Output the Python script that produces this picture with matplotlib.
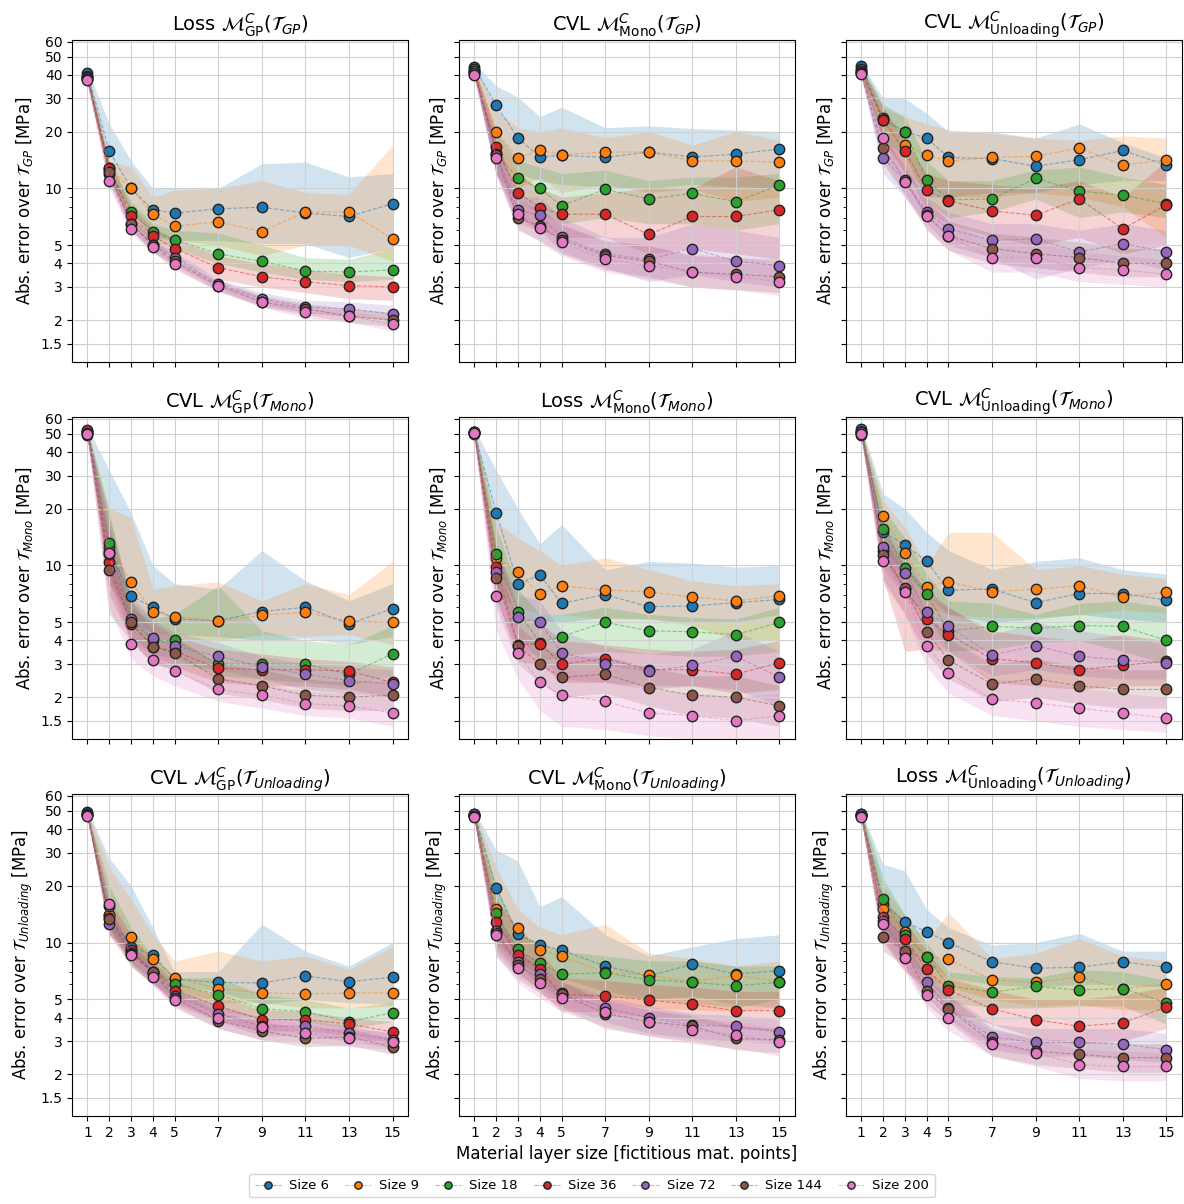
import matplotlib
matplotlib.use("Agg")
import matplotlib.pyplot as plt
from matplotlib.ticker import FixedLocator, NullFormatter

# x axis: material layer sizes
layer_sizes = [1, 2, 3, 4, 5, 7, 9, 11, 13, 15]
series_labels = ["Size 6", "Size 9", "Size 18", "Size 36", "Size 72", "Size 144", "Size 200"]
models = ["GP", "Mono", "Unloading"]      # columns
test_sets = ["GP", "Mono", "Unloading"]   # rows
y_ticks = [1.5, 2, 3, 4, 5, 10, 20, 30, 40, 50, 60]

# ---- Test set GP ----
gp_gp_mean = [
    [41, 15.8, 10.0, 7.7, 7.4, 7.8, 7.95, 7.4, 7.1, 8.3],
    [39.5, 12.8, 10.0, 7.3, 6.3, 6.65, 5.9, 7.5, 7.5, 5.4],
    [39, 12.6, 7.5, 5.9, 5.35, 4.5, 4.1, 3.65, 3.6, 3.7],
    [39, 12.9, 7.1, 5.6, 4.8, 3.8, 3.4, 3.2, 3.05, 3.0],
    [38, 12.0, 6.5, 5.0, 4.3, 3.1, 2.6, 2.35, 2.3, 2.15],
    [38, 12.2, 6.5, 5.0, 4.1, 3.05, 2.5, 2.3, 2.1, 2.0],
    [37.5, 10.9, 6.1, 4.9, 3.95, 3.05, 2.5, 2.2, 2.1, 1.9],
]
gp_gp_lo = [
    [38, 12, 7.5, 5.5, 5.3, 5.3, 5.1, 5.1, 4.3, 4.8],
    [37, 11, 7.5, 5.8, 5.3, 5.0, 4.4, 5.0, 5.0, 4.1],
    [37, 11, 6.8, 5.2, 4.8, 4.0, 3.6, 3.3, 3.2, 3.3],
    [37, 11.5, 6.3, 5.0, 4.3, 3.3, 3.0, 2.8, 2.6, 2.55],
    [36, 11, 6.0, 4.6, 4.0, 2.9, 2.4, 2.2, 2.1, 2.0],
    [36, 11, 6.0, 4.6, 3.8, 2.85, 2.35, 2.15, 1.95, 1.85],
    [36, 10, 5.7, 4.6, 3.7, 2.85, 2.35, 2.05, 1.95, 1.75],
]
gp_gp_hi = [
    [43, 22, 14, 10, 10, 10, 13.5, 13.8, 11.5, 12.0],
    [41, 14, 13, 9, 9.8, 10, 11, 9.5, 9.3, 17],
    [41, 14, 8.5, 6.5, 6.0, 5.8, 5.0, 4.3, 4.2, 4.8],
    [41, 14, 8.0, 6.2, 5.4, 4.4, 4.0, 3.7, 3.5, 3.4],
    [40, 13, 7.0, 5.4, 4.6, 3.3, 2.8, 2.55, 2.5, 2.4],
    [40, 13, 7.0, 5.4, 4.4, 3.25, 2.7, 2.45, 2.3, 2.2],
    [39, 12, 6.6, 5.2, 4.2, 3.25, 2.65, 2.35, 2.25, 2.05],
]

mono_gp_mean = [
    [44.2, 27.6, 18.5, 14.7, 15.0, 14.6, 15.6, 14.7, 15.2, 16.2],
    [43, 20, 14.5, 15.9, 15.1, 15.6, 15.6, 14.0, 14.0, 13.8],
    [42, 15.5, 11.3, 10.0, 8.1, 9.9, 8.8, 9.4, 8.5, 10.4],
    [41, 16.5, 9.5, 7.9, 7.3, 7.3, 5.7, 7.1, 7.1, 7.7],
    [42, 15.3, 7.7, 7.2, 5.5, 4.5, 4.2, 4.8, 4.1, 3.9],
    [41, 15.0, 7.0, 6.3, 5.35, 4.4, 4.1, 3.6, 3.5, 3.4],
    [40, 14.5, 7.3, 6.2, 5.2, 4.2, 3.9, 3.6, 3.4, 3.2],
]
mono_gp_lo = [
    [42, 20, 12, 11, 10.5, 10.2, 10, 10.5, 10.2, 10],
    [41, 15, 10, 11.5, 9.5, 10.5, 9.5, 10, 8.5, 9],
    [40, 12, 8.5, 7.5, 6.5, 7, 6.5, 6.5, 6, 6.5],
    [39, 12, 7, 6, 5.5, 5.5, 4.5, 4.8, 4.5, 4.2],
    [40, 12, 6.5, 6, 4.6, 3.8, 3.2, 3.5, 3.2, 3.0],
    [39, 12, 6.0, 5.3, 4.5, 3.7, 3.4, 3.0, 2.9, 2.8],
    [38, 11.5, 6.2, 5.2, 4.4, 3.6, 3.3, 3.0, 2.9, 2.7],
]
mono_gp_hi = [
    [46, 35, 30.5, 24, 27, 21, 21.5, 20.8, 20.4, 20],
    [45, 26, 21, 20, 21, 18.5, 20, 17, 20, 18],
    [44, 20, 14, 13, 12, 12.5, 11, 11.5, 11.5, 12],
    [43, 20, 12, 10, 9, 9.5, 10, 10, 13, 11],
    [44, 19, 9, 9, 7, 5.5, 5.5, 6.5, 6, 5.5],
    [43, 18, 8.5, 7.8, 6.4, 5.3, 5.0, 4.4, 4.3, 4.2],
    [42, 18, 9.0, 7.8, 6.5, 5.2, 4.9, 4.5, 4.3, 4.0],
]

unl_gp_mean = [
    [44.5, 23.5, 20.0, 18.5, 14.6, 14.4, 13.1, 14.2, 15.9, 13.3],
    [43, 23, 17.1, 15.0, 14.0, 14.6, 14.8, 16.4, 13.3, 14.2],
    [42, 23, 20.0, 11.1, 8.7, 8.8, 11.3, 9.7, 9.2, 8.3],
    [42, 23.0, 15.8, 9.8, 8.6, 7.6, 7.2, 8.8, 6.1, 8.2],
    [41, 14.5, 11.0, 7.5, 6.1, 5.3, 5.4, 4.6, 5.1, 4.6],
    [41, 16.4, 11.1, 7.2, 5.6, 4.8, 4.5, 4.3, 4.0, 4.0],
    [40.4, 18.5, 10.8, 7.1, 5.6, 4.3, 4.3, 3.8, 3.7, 3.5],
]
unl_gp_lo = [
    [42, 18, 12, 9, 9, 9.5, 9.5, 10.5, 11, 11],
    [41, 18, 12, 10, 9, 9, 9.5, 9, 8, 5.5],
    [40, 18, 15, 8.5, 7, 7.5, 8.8, 7, 7.5, 7],
    [40, 18, 13, 7.5, 6.5, 5.5, 5.0, 5.5, 4.5, 5],
    [39, 12, 9, 6.5, 5, 4.3, 3.3, 3.8, 4.2, 3.7],
    [39, 13.5, 9.3, 6.1, 4.7, 4.0, 3.8, 3.6, 3.4, 3.4],
    [38, 15, 9, 6, 4.7, 3.6, 3.6, 3.2, 3.1, 3.0],
]
unl_gp_hi = [
    [46, 30, 30, 25, 20, 20, 18.5, 22, 17.5, 14.5],
    [45, 27, 24, 22, 20.5, 19.5, 18.5, 18, 19, 18.5],
    [45, 28, 24, 14, 11, 11, 12.5, 13, 11.5, 10.5],
    [44, 27, 18, 12, 11, 10.5, 10, 11, 9, 14],
    [43, 18, 13, 9, 7.5, 6.5, 6.5, 6, 6.5, 6],
    [43, 19, 13, 8.6, 6.7, 5.8, 5.5, 5.2, 4.8, 4.8],
    [42, 21, 12.8, 8.5, 6.7, 5.2, 5.2, 4.6, 4.4, 4.2],
]

# ---- Test set Mono ----
gp_mono_mean = [
    [52, 12.0, 6.9, 6.0, 5.2, 5.1, 5.7, 6.0, 4.9, 5.9],
    [51, 12.5, 8.2, 5.7, 5.35, 5.05, 5.45, 5.65, 5.05, 5.0],
    [51, 13.2, 5.1, 4.0, 4.0, 3.0, 3.0, 3.0, 2.65, 3.4],
    [52.5, 10.4, 4.9, 3.7, 3.5, 2.85, 2.8, 2.8, 2.75, 2.4],
    [50.5, 11.5, 5.2, 4.1, 3.75, 3.3, 2.9, 2.65, 2.45, 2.35],
    [49, 9.5, 5.0, 3.7, 3.45, 2.5, 2.3, 2.05, 2.0, 2.05],
    [50, 11.6, 3.85, 3.15, 2.75, 2.2, 2.05, 1.85, 1.8, 1.65],
]
gp_mono_lo = [
    [50, 8, 5, 4.4, 4.3, 4.2, 4.0, 4.1, 3.8, 4.2],
    [49, 8, 5.5, 4.5, 4.1, 4.0, 4.3, 4.2, 4.3, 3.8],
    [49, 9, 4.2, 3.4, 3.2, 2.6, 2.5, 2.4, 2.3, 2.6],
    [50, 7, 4, 3.0, 2.9, 2.4, 2.3, 2.3, 2.2, 2.0],
    [48, 8, 4.0, 3.3, 3.0, 2.8, 2.5, 2.2, 2.1, 2.0],
    [47, 5.5, 4.0, 3.0, 2.8, 2.1, 1.95, 1.75, 1.7, 1.7],
    [48, 6, 3.2, 2.6, 2.3, 1.9, 1.75, 1.6, 1.55, 1.4],
]
gp_mono_hi = [
    [54, 32, 19, 10, 8, 7.5, 12, 8.3, 6.5, 8],
    [53, 20, 18, 7.5, 7.8, 8.2, 6.5, 8.0, 7.0, 10.5],
    [53, 19, 6.5, 5.2, 5.5, 7.8, 4.5, 4.0, 3.8, 4.8],
    [55, 14, 6, 5, 4.2, 3.6, 3.4, 3.2, 3.1, 2.9],
    [53, 16, 7, 5.2, 4.4, 3.9, 3.3, 3.0, 2.9, 2.8],
    [51, 18, 6.5, 4.5, 4.2, 3.0, 2.8, 2.5, 2.4, 2.5],
    [52, 16, 4.6, 3.7, 3.2, 2.55, 2.35, 2.15, 2.1, 1.95],
]

mono_mono_mean = [
    [51, 19.1, 8.0, 8.9, 6.3, 7.0, 6.05, 6.1, 6.35, 6.6],
    [51, 11.0, 9.2, 7.05, 7.8, 7.4, 7.25, 6.8, 6.5, 6.9],
    [50.5, 11.5, 5.7, 3.9, 4.2, 5.0, 4.5, 4.45, 4.3, 5.0],
    [51, 9.8, 3.8, 3.85, 3.0, 3.2, 2.8, 2.8, 2.65, 3.05],
    [50.5, 9.25, 5.3, 5.0, 3.45, 3.0, 2.75, 2.95, 3.3, 2.55],
    [50, 8.6, 3.75, 3.0, 2.55, 2.65, 2.25, 2.05, 2.0, 1.8],
    [50.5, 6.9, 3.45, 2.4, 2.05, 1.9, 1.65, 1.6, 1.5, 1.6],
]
mono_mono_lo = [
    [48, 10, 6, 5, 5, 5.3, 5.2, 5.0, 5.0, 5.5],
    [48, 7, 6, 5.5, 5.5, 5.2, 5.2, 4.8, 4.0, 4.0],
    [48, 8, 4.3, 3.1, 3.3, 3.5, 3.4, 3.3, 3.3, 3.5],
    [48, 7, 3.1, 3.0, 2.4, 2.4, 2.3, 2.3, 2.1, 2.2],
    [48, 6.5, 3.6, 3.3, 2.5, 2.4, 2.2, 2.3, 2.2, 1.8],
    [47, 6, 3.0, 2.4, 2.0, 2.1, 1.8, 1.6, 1.55, 1.4],
    [48, 4.5, 2.5, 1.7, 1.4, 1.35, 1.25, 1.2, 1.1, 1.2],
]
mono_mono_hi = [
    [53, 32, 20, 13, 16.5, 9.5, 10.5, 10.3, 9.8, 10],
    [53, 17, 14, 12, 10, 11, 9.5, 8.3, 7.8, 8],
    [53, 16, 7.5, 5.5, 5.5, 6.0, 5.5, 5.3, 5.2, 6],
    [53, 13, 6, 5, 4, 3.8, 3.6, 3.5, 3.6, 4.0],
    [53, 12, 7, 6.5, 4.5, 3.7, 3.4, 3.6, 4.5, 3.5],
    [52, 12, 4.8, 3.8, 3.3, 3.3, 2.9, 2.6, 2.6, 2.3],
    [52, 10, 4.6, 3.2, 2.8, 2.5, 2.2, 2.1, 2.0, 2.1],
]

unl_mono_mean = [
    [53, 15.0, 12.9, 10.5, 7.4, 7.5, 6.35, 7.1, 7.1, 6.55],
    [51, 18.2, 11.7, 7.7, 8.2, 7.25, 7.5, 7.8, 6.8, 7.25],
    [51, 15.6, 9.7, 7.05, 4.5, 4.75, 4.65, 4.8, 4.75, 4.0],
    [51, 12.0, 7.5, 5.2, 4.3, 3.2, 3.05, 2.8, 2.95, 3.1],
    [51, 12.5, 9.1, 5.7, 4.75, 3.35, 3.75, 3.3, 3.15, 3.05],
    [49.5, 11.3, 7.6, 4.45, 3.15, 2.35, 2.5, 2.3, 2.2, 2.2],
    [50, 10.5, 7.25, 3.75, 2.7, 1.95, 1.87, 1.75, 1.65, 1.55],
]
unl_mono_lo = [
    [50, 11, 9, 7, 5.5, 5, 5.2, 5.5, 5.2, 5.0],
    [49, 13, 9, 6, 5.5, 5.3, 5.3, 5.5, 5.8, 5.6],
    [49, 11, 7, 5.5, 3.5, 3.6, 3.9, 4.0, 3.5, 3.0],
    [49, 8.5, 3.5, 3.6, 3.5, 2.4, 2.3, 2.2, 2.3, 2.3],
    [49, 9.5, 7, 4.5, 3.5, 2.6, 2.8, 2.6, 2.5, 2.5],
    [47, 8.5, 5.5, 3.4, 2.5, 1.9, 2.0, 1.85, 1.75, 1.75],
    [48, 8, 5.5, 2.9, 2.1, 1.6, 1.5, 1.4, 1.35, 1.3],
]
unl_mono_hi = [
    [55, 24, 20, 15, 12, 9.5, 10.5, 11, 9.5, 9],
    [53, 22, 16, 10, 15, 15, 9.5, 10, 9, 8.5],
    [53, 20, 14, 9, 6.5, 6.3, 5.5, 6.3, 6.5, 6],
    [53, 16, 10, 7.5, 6, 4.5, 4.2, 4.0, 4.3, 4.0],
    [53, 16, 11.5, 7, 6, 4.3, 5, 4.5, 4.2, 3.8],
    [52, 14, 9.5, 5.8, 4.1, 3.0, 3.2, 2.9, 2.8, 2.8],
    [52, 13, 9, 4.8, 3.5, 2.5, 2.4, 2.25, 2.1, 2.0],
]

# ---- Test set Unloading ----
gp_unl_mean = [
    [49, 14.0, 9.5, 8.6, 6.4, 6.15, 6.1, 6.65, 6.2, 6.55],
    [48, 14.0, 10.7, 8.2, 6.5, 5.7, 5.4, 5.35, 5.4, 5.4],
    [48, 15.6, 9.0, 7.0, 6.0, 5.3, 4.45, 4.3, 3.8, 4.25],
    [48, 13.5, 9.1, 7.0, 5.55, 4.6, 3.9, 3.9, 3.7, 3.35],
    [47.5, 12.5, 8.8, 6.85, 5.2, 4.2, 3.6, 3.6, 3.3, 3.05],
    [47.5, 13.4, 8.7, 7.0, 5.1, 3.85, 3.4, 3.1, 3.15, 2.8],
    [47, 16.0, 8.6, 6.55, 4.95, 4.0, 3.55, 3.3, 3.1, 2.95],
]
gp_unl_lo = [
    [47, 11, 9, 7, 6, 5.5, 4.7, 5, 4.8, 4.7],
    [46, 11, 8.5, 7, 5.7, 4.8, 4.8, 4.5, 4.5, 4.6],
    [46, 12, 7.5, 6, 5.2, 4.3, 4.0, 3.8, 3.5, 3.8],
    [46, 11, 7.5, 6, 4.8, 3.9, 3.4, 3.4, 3.2, 2.9],
    [46, 11, 7.9, 6.1, 4.7, 3.8, 3.2, 3.2, 3.0, 2.75],
    [46, 12, 7.8, 6.3, 4.6, 3.5, 3.05, 2.8, 2.85, 2.55],
    [45, 14, 7.7, 5.9, 4.5, 3.5, 3.05, 2.95, 2.8, 2.7],
]
gp_unl_hi = [
    [51, 28, 20, 12, 7, 7, 12.5, 9, 7.5, 10],
    [50, 25, 17, 11, 8, 9, 8, 8.5, 7.2, 9.5],
    [50, 20, 12, 8.5, 6.5, 6.5, 5.3, 5.0, 4.5, 4.8],
    [50, 17, 11, 8, 6.2, 5.2, 4.4, 4.3, 4.0, 3.8],
    [49, 14, 9.8, 7.6, 5.8, 4.6, 4.0, 3.9, 3.6, 3.3],
    [49, 15, 9.7, 7.8, 5.6, 4.3, 3.8, 3.5, 3.5, 3.1],
    [49, 18, 9.6, 7.3, 5.5, 4.5, 4.0, 3.7, 3.5, 3.3],
]

mono_unl_mean = [
    [48, 19.4, 11.1, 9.7, 9.1, 7.5, 6.65, 7.65, 6.8, 7.1],
    [47.5, 15.1, 12.0, 9.15, 8.45, 7.0, 6.7, 6.2, 6.7, 6.2],
    [47.5, 14.3, 9.2, 7.75, 6.8, 6.9, 6.35, 6.15, 5.9, 6.15],
    [47, 12.9, 8.6, 7.25, 5.3, 5.2, 4.95, 4.7, 4.35, 4.35],
    [48, 11.5, 7.9, 6.8, 5.4, 4.5, 4.0, 3.65, 3.6, 3.35],
    [47, 11.3, 7.6, 6.4, 5.35, 4.2, 3.8, 3.6, 3.1, 3.05],
    [46.5, 10.9, 7.35, 6.1, 5.05, 4.3, 3.8, 3.45, 3.25, 2.95],
]
mono_unl_lo = [
    [46, 13, 8, 7, 6.5, 5.5, 5, 5.2, 4.7, 4.5],
    [45, 10, 8, 6.5, 5.5, 4.8, 4.5, 4.4, 4.3, 4.5],
    [45, 10, 7.5, 6, 5, 5.2, 5, 4.8, 4.5, 5.0],
    [45, 9.5, 7, 5.5, 4.3, 4.3, 4.0, 3.8, 3.5, 3.4],
    [46, 9, 6.7, 5.8, 4.6, 3.8, 3.3, 3.1, 3.0, 2.9],
    [45, 8.5, 6.4, 5.4, 4.5, 3.5, 3.2, 3.0, 2.7, 2.6],
    [44, 8.5, 6.1, 5.1, 4.3, 3.6, 3.2, 2.9, 2.75, 2.5],
]
mono_unl_hi = [
    [50, 31, 27, 15.5, 17.5, 11, 8.5, 9.5, 10.5, 11],
    [50, 25, 15, 12, 11, 12.5, 8.8, 8.2, 7.5, 8],
    [50, 20, 11, 10, 9, 8.5, 8, 8, 7.5, 7.5],
    [49, 17, 12, 9, 6.5, 6.3, 6, 5.8, 5.5, 5.5],
    [50, 14, 9.3, 7.8, 6.2, 5.2, 4.6, 4.2, 4.1, 3.9],
    [49, 14, 9, 7.4, 6.2, 4.9, 4.4, 4.1, 3.6, 3.5],
    [48, 13, 8.6, 7.1, 5.8, 5.0, 4.4, 4.0, 3.8, 3.5],
]

unl_unl_mean = [
    [48, 16.0, 12.9, 11.4, 10.0, 7.9, 7.3, 7.4, 7.9, 7.4],
    [47.5, 15.1, 11.4, 8.4, 8.15, 6.35, 6.15, 6.55, 5.7, 6.0],
    [47.5, 17.0, 10.9, 8.4, 5.9, 5.45, 5.85, 5.6, 5.7, 4.8],
    [47.5, 13.7, 10.5, 7.2, 5.6, 4.45, 3.9, 3.6, 3.75, 4.55],
    [48, 13.0, 8.8, 6.2, 4.5, 3.15, 2.95, 2.95, 2.9, 2.7],
    [47, 10.7, 9.0, 5.5, 4.45, 2.95, 2.65, 2.55, 2.45, 2.45],
    [46.5, 12.5, 8.3, 5.25, 4.0, 2.9, 2.6, 2.25, 2.2, 2.2],
]
unl_unl_lo = [
    [46, 11, 9, 8, 6.5, 6, 5.8, 6, 6, 5.8],
    [45, 11, 9, 6.5, 5.8, 5.0, 4.6, 4.7, 4.4, 4.4],
    [45, 12, 8.5, 6.5, 4.8, 4.5, 4.5, 4.6, 4.6, 3.7],
    [45, 10, 7, 5.8, 4.3, 3.7, 3.1, 2.9, 3.0, 3.5],
    [46, 10.5, 7.3, 5.3, 3.9, 2.7, 2.5, 2.5, 2.4, 2.3],
    [45, 9, 7.5, 4.7, 3.8, 2.5, 2.25, 2.15, 2.05, 2.05],
    [44, 10.5, 7, 4.5, 3.4, 2.5, 2.2, 1.9, 1.85, 1.85],
]
unl_unl_hi = [
    [50, 26, 24, 15, 12, 9.7, 10, 11.2, 9, 9],
    [50, 20, 14, 10, 14.5, 8.2, 8.8, 10.5, 8.5, 8],
    [50, 22, 14, 10, 7, 6.6, 6.5, 7.2, 7, 6.3],
    [50, 17, 13, 9, 6.5, 5.6, 5, 5, 5.3, 5.8],
    [50, 16, 10.5, 7.3, 5.3, 3.7, 3.5, 3.5, 3.5, 3.3],
    [49, 13, 10.5, 6.5, 5.2, 3.5, 3.1, 3.0, 2.9, 2.9],
    [49, 15, 9.8, 6.2, 4.7, 3.4, 3.1, 2.7, 2.65, 2.6],
]

panels = [
    [(gp_gp_mean, gp_gp_lo, gp_gp_hi), (mono_gp_mean, mono_gp_lo, mono_gp_hi), (unl_gp_mean, unl_gp_lo, unl_gp_hi)],
    [(gp_mono_mean, gp_mono_lo, gp_mono_hi), (mono_mono_mean, mono_mono_lo, mono_mono_hi), (unl_mono_mean, unl_mono_lo, unl_mono_hi)],
    [(gp_unl_mean, gp_unl_lo, gp_unl_hi), (mono_unl_mean, mono_unl_lo, mono_unl_hi), (unl_unl_mean, unl_unl_lo, unl_unl_hi)],
]

colors = ["C0", "C1", "C2", "C3", "C4", "C5", "C6"]

fig, axes = plt.subplots(3, 3, figsize=(11.84, 12.04), dpi=100, sharex=True, sharey=True)
fig.subplots_adjust(left=0.061, right=0.998, bottom=0.073, top=0.967, wspace=0.153, hspace=0.17)

for r in range(3):
    for c in range(3):
        ax = axes[r, c]
        mean, lo, hi = panels[r][c]
        # bands first, then lines with markers
        for k in range(7):
            ax.fill_between(layer_sizes, lo[k], hi[k], color=colors[k], alpha=0.2, linewidth=0)
        for k in range(7):
            rgba = matplotlib.colors.to_rgba(colors[k], 0.5)
            ax.plot(layer_sizes, mean[k], linestyle="--", linewidth=0.8, color=rgba,
                    marker="o", markersize=7.5, markerfacecolor=colors[k],
                    markeredgecolor="#222222", markeredgewidth=1.0, label=series_labels[k])
        kind = "Loss" if r == c else "CVL"
        ax.set_title(r"%s $\mathcal{M}^C_{\rm %s}(\mathcal{T}_{%s})$" % (kind, models[c], test_sets[r]),
                     fontsize=14)
        ax.set_ylabel(r"Abs. error over $\mathcal{T}_{%s}$ [MPa]" % test_sets[r], fontsize=12)
        ax.set_yscale("log")
        ax.grid(True, which="major", color="#d0d0d0", linewidth=0.8)

ax0 = axes[0, 0]
ax0.set_ylim(1.2, 61.5)
ax0.yaxis.set_major_locator(FixedLocator(y_ticks))
ax0.set_yticklabels([str(t) for t in y_ticks])
ax0.yaxis.set_minor_locator(FixedLocator([6, 7, 8, 9]))
ax0.yaxis.set_minor_formatter(NullFormatter())
ax0.set_xticks(layer_sizes)
for ax in axes.flat:
    ax.tick_params(labelsize=10)

axes[2, 1].set_xlabel("Material layer size [fictitious mat. points]", fontsize=12)

handles, labels = axes[0, 0].get_legend_handles_labels()
fig.legend(handles, labels, loc="lower center", ncol=7, fontsize=9.5,
           bbox_to_anchor=(0.5, 0.0), markerscale=0.7, columnspacing=1.2,
           handlelength=2.0, handletextpad=0.6)

fig.savefig("out.png", dpi=100)
